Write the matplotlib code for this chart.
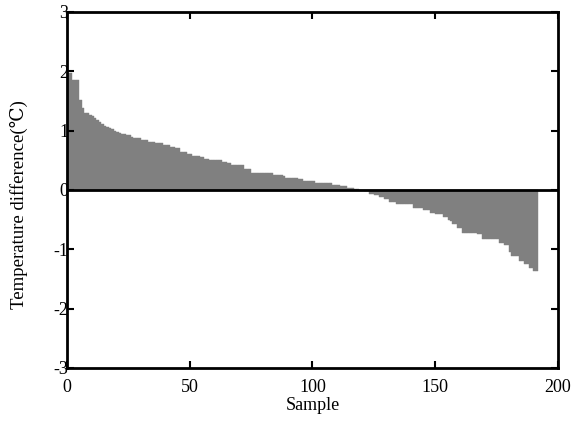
import matplotlib.pyplot as plt
import numpy as np

# temperature differences, sorted, one bar per sample
temp_diff = [
    1.97, 1.97, 1.85, 1.85, 1.85, 1.51, 1.38, 1.30, 1.30, 1.27,
    1.24, 1.21, 1.18, 1.14, 1.11, 1.08, 1.06, 1.04, 1.02, 1.00,
    0.98, 0.96, 0.95, 0.95, 0.92, 0.92, 0.89, 0.87, 0.87, 0.87,
    0.84, 0.84, 0.84, 0.81, 0.81, 0.81, 0.79, 0.79, 0.79, 0.75,
    0.75, 0.75, 0.72, 0.72, 0.70, 0.70, 0.64, 0.64, 0.64, 0.61,
    0.61, 0.58, 0.58, 0.58, 0.56, 0.56, 0.53, 0.53, 0.51, 0.51,
    0.51, 0.51, 0.51, 0.48, 0.48, 0.46, 0.46, 0.42, 0.42, 0.42,
    0.42, 0.42, 0.35, 0.35, 0.35, 0.29, 0.29, 0.29, 0.29, 0.29,
    0.29, 0.29, 0.29, 0.29, 0.26, 0.26, 0.26, 0.26, 0.24, 0.21,
    0.21, 0.21, 0.21, 0.21, 0.19, 0.19, 0.16, 0.16, 0.16, 0.16,
    0.16, 0.11, 0.11, 0.11, 0.11, 0.11, 0.11, 0.11, 0.08, 0.08,
    0.08, 0.06, 0.06, 0.06, 0.03, 0.03, 0.03, 0.01, 0.01, 0.00,
    0.00, -0.01, -0.01, -0.06, -0.06, -0.09, -0.09, -0.12, -0.12, -0.15,
    -0.15, -0.20, -0.20, -0.20, -0.24, -0.24, -0.24, -0.24, -0.24, -0.24,
    -0.24, -0.31, -0.31, -0.31, -0.31, -0.34, -0.34, -0.34, -0.38, -0.38,
    -0.41, -0.41, -0.41, -0.45, -0.45, -0.50, -0.53, -0.57, -0.57, -0.64,
    -0.64, -0.72, -0.72, -0.72, -0.72, -0.72, -0.72, -0.75, -0.75, -0.82,
    -0.82, -0.82, -0.82, -0.82, -0.82, -0.82, -0.89, -0.89, -0.93, -0.93,
    -1.05, -1.11, -1.11, -1.11, -1.19, -1.19, -1.24, -1.24, -1.32, -1.32,
    -1.37, -1.37,
]
x_ticks = [0, 50, 100, 150, 200]
y_ticks = [-3, -2, -1, 0, 1, 2, 3]

plt.rcParams['font.family'] = ['Liberation Serif', 'DejaVu Serif']
plt.rcParams['font.size'] = 13
plt.rcParams['axes.unicode_minus'] = False

fig = plt.figure(figsize=(5.84, 4.30), dpi=100)
ax = fig.add_axes([0.1147, 0.1442, 0.8408, 0.8279])

samples = np.arange(len(temp_diff))
ax.bar(samples, temp_diff, width=1.0, align='edge', color='#808080',
       edgecolor='#808080', linewidth=0.3)
ax.axhline(0, color='black', linewidth=2)

ax.set_xlim(0, 200)
ax.set_ylim(-3, 3)
ax.set_xticks(x_ticks)
ax.set_yticks(y_ticks)
ax.tick_params(direction='in', top=True, right=True, length=5, width=1.5)
ax.tick_params(axis='y', pad=-1)
ax.tick_params(axis='x', pad=8)
for s in ax.spines.values():
    s.set_linewidth(2)

ax.set_xlabel('Sample', labelpad=1)
ax.set_ylabel('Temperature difference(℃)', fontsize=13.5)
ax.yaxis.set_label_coords(-0.08, 0.46)

fig.savefig('out.png', dpi=100)
